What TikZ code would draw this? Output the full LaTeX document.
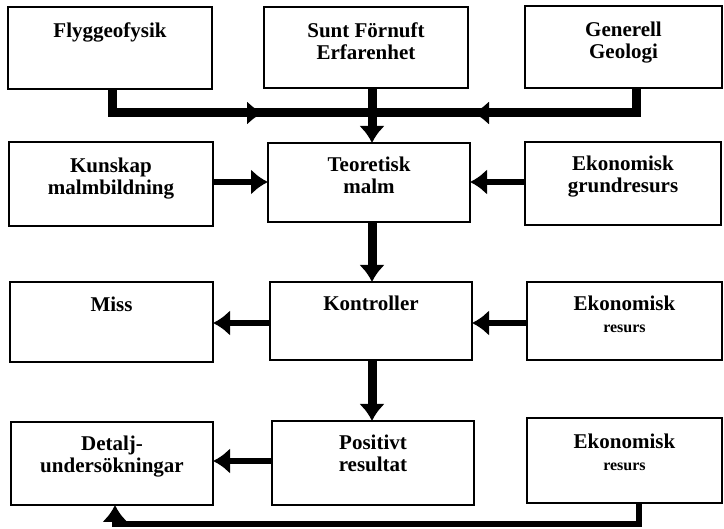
\documentclass[tikz,border=0pt]{standalone}
\usepackage{fontspec}
\setmainfont{Liberation Serif}
\usetikzlibrary{arrows.meta}
\tikzset{
  box/.style={draw, line width=2pt, inner sep=0pt, outer sep=0pt},
  txt/.style={anchor=north, inner sep=0pt, align=center, font=\bfseries\fontsize{21}{21.5}\selectfont},
  thickline/.style={line width=9pt},
  midline/.style={line width=6pt},
  tip/.style={-{Latex[length=17pt,width=26pt]}},
  smalltip/.style={-{Latex[length=16pt,width=24pt]}}
}
\newcommand{\st}{\rule{0pt}{14pt}}
\begin{document}
\begin{tikzpicture}[x=1pt,y=-1pt]
\useasboundingbox (0,0) rectangle (724,529);
% boxes
\node[box, minimum width=204pt, minimum height=82pt] (flyg) at (110,48) {};
\node[box, minimum width=204pt, minimum height=81pt] (sunt) at (366,47.5) {};
\node[box, minimum width=197pt, minimum height=82pt] (gen) at (623.5,47) {};
\node[box, minimum width=204pt, minimum height=84pt] (kun) at (111,184) {};
\node[box, minimum width=202pt, minimum height=79pt] (teo) at (369,182.5) {};
\node[box, minimum width=196pt, minimum height=83pt] (ekg) at (623,183.5) {};
\node[box, minimum width=203pt, minimum height=80pt] (miss) at (111.5,322) {};
\node[box, minimum width=202pt, minimum height=78pt] (kon) at (371,321) {};
\node[box, minimum width=195pt, minimum height=78pt] (ekr) at (624.5,321) {};
\node[box, minimum width=202pt, minimum height=83pt] (det) at (112,463.5) {};
\node[box, minimum width=202pt, minimum height=84pt] (pos) at (373,463) {};
\node[box, minimum width=195pt, minimum height=85pt] (ekrb) at (624.5,460.5) {};
% texts
\node[txt] (flygt) at ([yshift=-16pt]flyg.north) {\st Flyggeofysik};
\node[txt] (suntt) at ([yshift=-16pt]sunt.north) {\st Sunt Förnuft\\Erfarenhet};
\node[txt] (gent) at ([yshift=-16pt]gen.north) {\st Generell\\Geologi};
\node[txt] (kunt) at ([yshift=-16pt]kun.north) {\st Kunskap\\malmbildning};
\node[txt] (teot) at ([yshift=-14pt]teo.north) {\st Teoretisk\\malm};
\node[txt] (ekgt) at ([yshift=-14pt]ekg.north) {\st Ekonomisk\\grundresurs};
\node[txt] (misst) at ([yshift=-15pt]miss.north) {\st Miss};
\node[txt] (kont) at ([yshift=-14pt]kon.north) {\st Kontroller};
\node[txt] (ekrt) at ([yshift=-14pt]ekr.north) {\st Ekonomisk\\{\fontsize{16}{16}\selectfont resurs}};
\node[txt] (dett) at ([yshift=-14pt]det.north) {\st Detalj-\\undersökningar};
\node[txt] (post) at ([yshift=-14pt]pos.north) {\st Positivt\\resultat};
\node[txt] (ekrbt) at ([yshift=-16pt]ekrb.north) {\st Ekonomisk\\{\fontsize{16}{16}\selectfont resurs}};
% junction coordinates
\coordinate (j1) at (372,113);
\coordinate (a1) at (263,113);
\coordinate (a2) at (473,113);
\coordinate (lb) at (115,524);
% row 1 connectors
\draw[thickline] ([xshift=2pt]flyg.south) |- (j1);
\draw[thickline, smalltip] ([xshift=2pt]flyg.south |- j1) -- (a1);
\draw[thickline] ([xshift=13pt]gen.south) |- (j1);
\draw[thickline, smalltip] ([xshift=13pt]gen.south |- j1) -- (a2);
\draw[thickline, tip] (sunt.south -| j1) -- (teo.north -| j1);
% row 2
\draw[midline, tip] (kun.east |- 0,182) -- (teo.west |- 0,182);
\draw[midline, tip] (ekg.west |- 0,182) -- (teo.east |- 0,182);
\draw[thickline, tip] (teo.south -| j1) -- (kon.north -| j1);
% row 3
\draw[midline, tip] (kon.west |- 0,323) -- (miss.east |- 0,323);
\draw[midline, tip] (ekr.west |- 0,323) -- (kon.east |- 0,323);
\draw[thickline, tip] (kon.south -| j1) -- (pos.north -| j1);
% row 4
\draw[midline, tip] (pos.west |- 0,461) -- (det.east |- 0,461);
\draw[midline, tip] ([xshift=14pt]ekrb.south) |- (lb) -- (lb |- det.south);
\end{tikzpicture}
\end{document}
